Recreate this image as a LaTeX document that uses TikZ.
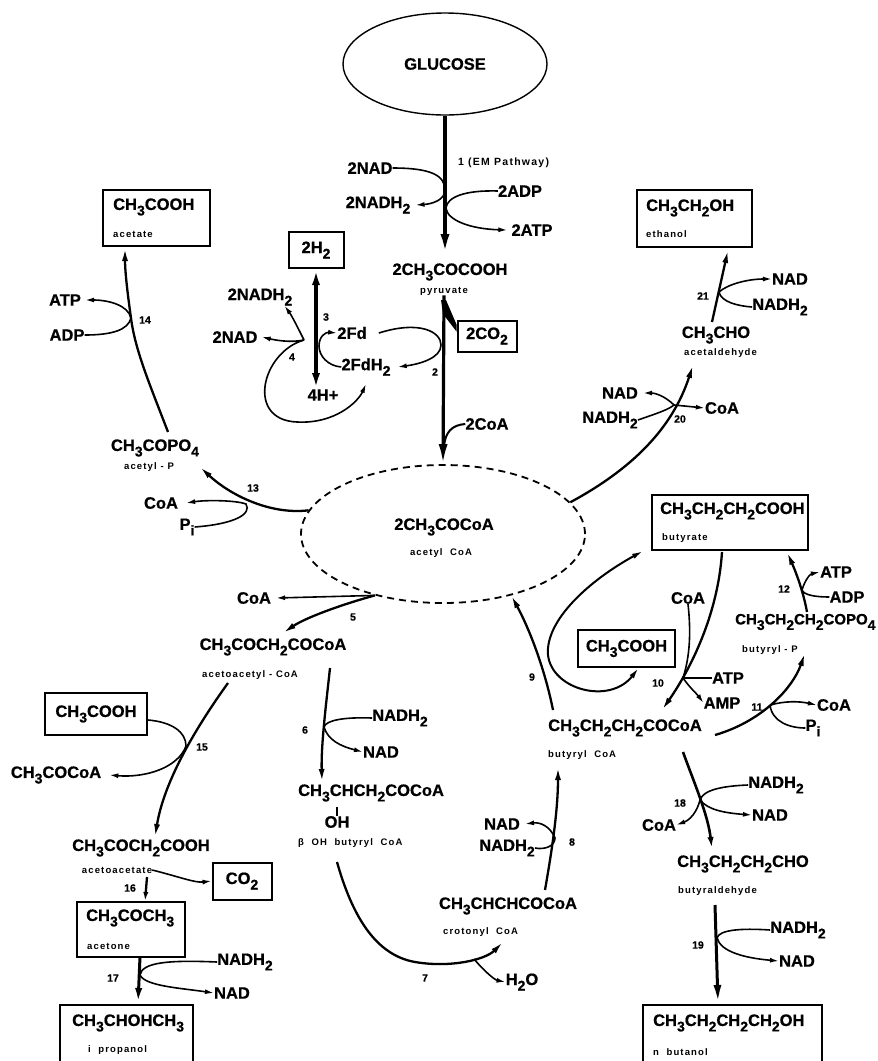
\documentclass[tikz,border=0pt]{standalone}
\usepackage{fontspec}
\setmainfont{Liberation Sans}[BoldFeatures={FakeBold=0.7}]
\newfontfamily\spacedfam[LetterSpace=12]{Liberation Sans}
\usepackage{tikz}
\usetikzlibrary{arrows.meta,shapes.geometric,positioning}
\newcommand{\chs}[1]{\raisebox{-5.5pt}{\fontsize{14}{14}\selectfont #1}}
\newcommand{\cmpfont}{\fontsize{16.5}{18}\selectfont\bfseries}
\newcommand{\lblfont}{\spacedfam\fontsize{9.5}{10}\selectfont\bfseries}
\newcommand{\numfont}{\fontsize{10.5}{11}\selectfont\bfseries}

\begin{document}
\begin{tikzpicture}[x=1pt,y=-1pt,
  cmp/.style={font=\cmpfont,inner sep=0pt},
  lbl/.style={font=\lblfont,inner sep=0pt},
  num/.style={font=\numfont,inner sep=0pt},
  cbox/.style={draw,rectangle,line width=2pt,inner sep=0pt},
  cof/.style={line width=1.6pt},
  cofarr/.style={cof,-{Latex[length=9pt,width=5pt]}},
  rxn/.style={line width=2.3pt,-{Latex[length=13pt,width=6pt]}},
  mainrxn/.style={line width=3.6pt,-{Latex[length=20pt,width=9pt]}},
  dblrxn/.style={line width=3.4pt,{Latex[length=16pt,width=8pt]}-{Latex[length=16pt,width=8pt]}},
  twoway/.style={line width=2pt,{Latex[length=11pt,width=5.5pt]}-{Latex[length=11pt,width=5.5pt]}}]

\useasboundingbox (0,0) rectangle (878,1061);
\fill[white] (0,0) rectangle (878,1061);
\clip (0,0) rectangle (878,1061);

% glucose to pyruvate
\node[draw,ellipse,line width=1.4pt,minimum width=204pt,minimum height=102pt,cmp] (glc) at (445,64) {GLUCOSE};
\node[anchor=west,inner sep=0pt,font=\spacedfam\fontsize{10.5}{11}\selectfont\bfseries] (emp) at (458,163) {1 (EM Pathway)};
\node[cmp] (nadA) at (370,168) {2NAD};
\node[cmp] (nadhA) at (378,205) {2NADH\chs2};
\node[cmp] (adpA) at (520,191) {2ADP};
\node[cmp] (atpA) at (532,230) {2ATP};
\node[cmp] (pyr) at (450,272) {2CH\chs3COCOOH};
\node[lbl] (pyrl) at (444,291) {pyruvate};
\coordinate (t1) at (445,254);
\coordinate (j1a) at (445,190);
\coordinate (j1b) at (446,208);
\draw[mainrxn] (glc.south) -- (t1);
\draw[cofarr] (nadA.east) .. controls (430,168) and (445,175) .. (j1a) .. controls (445,200) and (432,204) .. ([xshift=5pt]nadhA.east);
\draw[cofarr] (adpA.west) .. controls (465,190) and (447,197) .. (j1b) .. controls (447,220) and (470,229) .. ([xshift=-4pt]atpA.west);

% pyruvate to acetyl CoA, hydrogen
\node[cmp,cbox,minimum width=59pt,minimum height=31pt] (co2A) at (487,336) {2CO\chs2};
\node[cmp,cbox,minimum width=55pt,minimum height=36pt] (htwo) at (316,250) {2H\chs2};
\node[cmp] (fd) at (352,333) {2Fd};
\node[cmp] (fdh) at (366,367) {2FdH\chs2};
\node[cmp] (hplus) at (323,395) {4H+};
\node[cmp] (nadhB) at (260,297) {2NADH\chs2};
\node[cmp] (nadB) at (235,337) {2NAD};
\node[num] (n3) at (326,317) {3};
\node[num] (n2) at (435,372) {2};
\node[num] (n4) at (292,357) {4};
\node[cmp] (coaB) at (487,424) {2CoA};
\node[draw,ellipse,line width=1.8pt,dash pattern=on 7pt off 5pt,minimum width=284pt,minimum height=138pt] (acoa) at (443,534) {};
\node[cmp] (acoat) at (444,527) {2CH\chs3COCoA};
\node[lbl] (acoal) at (441,553) {acetyl\ \ CoA};
\coordinate (j2) at (441,345);
\coordinate (j3) at (319,346);
\coordinate (j4) at (304,340);
\coordinate (j2c) at (444,447);
\draw[mainrxn,line width=3.2pt] (pyrl.south) -- (acoa.north);
\fill (441,300) -- (446,300) -- ([yshift=-5pt]co2A.north west) -- ([yshift=-12pt]co2A.north west) -- (443,314) -- cycle;
\draw[cof,line width=2pt] (coaB.west) .. controls (452,425) and (445,432) .. (j2c);
\draw[cofarr] ([xshift=12pt]fd.east) .. controls (420,320) and (441,332) .. (j2) .. controls (441,358) and (420,364) .. ([xshift=7pt]fdh.east);
\draw[dblrxn] (htwo.south) -- (htwo.south |- hplus.north);
\draw[cofarr] (fdh.west) .. controls (328,366) and (319,356) .. (j3) .. controls (319,336) and (326,332) .. (fd.west);
\draw[cofarr] (j4) .. controls (298,328) and (292,316) .. ([xshift=-8pt]nadhB.south east);
\draw[cofarr] (j4) .. controls (290,343) and (275,340) .. ([xshift=4pt]nadB.east);
\draw[cofarr] (j4) .. controls (262,352) and (245,420) .. (297,422) .. controls (335,424) and (358,402) .. ([yshift=-8pt]fdh.south);

% acetate branch
\node[cbox,minimum width=107pt,minimum height=56pt] (acetbox) at (156.5,218) {};
\node[cmp,anchor=west] (acet) at (113,207) {CH\chs3COOH};
\node[lbl,anchor=west] (acetl) at (113,234) {acetate};
\node[cmp] (atpC) at (65,300) {ATP};
\node[cmp] (adpC) at (67,335) {ADP};
\node[num] (n14) at (145,320) {14};
\node[cmp] (acp) at (155,448) {CH\chs3COPO\chs4};
\node[lbl] (acpl) at (149,467) {acetyl - P};
\node[num] (n13) at (253,488) {13};
\node[cmp] (coaD) at (161,503) {CoA};
\node[cmp] (piD) at (187,527) {P\chs{i}};
\coordinate (s14) at (168,432);
\coordinate (t14) at (125,248);
\coordinate (j14) at (131,318);
\coordinate (t13) at (200,467);
\coordinate (j13) at (246,504);
\draw[rxn] (s14) .. controls (150,385) and (135,350) .. (j14) .. controls (127,290) and (125,270) .. (t14);
\draw[cofarr] (adpC.east) .. controls (112,335) and (128,330) .. (j14) .. controls (128,305) and (108,300) .. ([xshift=4pt]atpC.east);
\draw[rxn] (acoa.170) .. controls (270,515) and (230,495) .. (t13);
\draw[cofarr] (piD.east) .. controls (235,524) and (252,514) .. (j13) .. controls (235,500) and (205,500) .. ([xshift=8pt]coaD.east);

% acetone and isopropanol branch
\node[cmp] (coaE) at (254,598) {CoA};
\node[num] (n5) at (353,617) {5};
\node[cmp] (acac) at (273,647) {CH\chs3COCH\chs2COCoA};
\node[lbl] (acacl) at (250,675) {acetoacetyl - CoA};
\node[cmp,cbox,minimum width=102pt,minimum height=42pt] (acetB) at (96,714) {CH\chs3COOH};
\node[num] (n15) at (202,747) {15};
\node[cmp] (accoa) at (56,775) {CH\chs3COCoA};
\node[cmp] (acacid) at (141,848) {CH\chs3COCH\chs2COOH};
\node[lbl] (acacidl) at (117,870) {acetoacetate};
\node[num] (n16) at (130,888) {16};
\node[cmp,cbox,minimum width=59pt,minimum height=37pt] (co2B) at (242,881) {CO\chs2};
\node[cbox,minimum width=108pt,minimum height=55pt] (acnbox) at (131,929.5) {};
\node[cmp,anchor=west] (acn) at (86,918) {CH\chs3COCH\chs3};
\node[lbl,anchor=west] (acnl) at (87,946) {acetone};
\node[num] (n17) at (113,978) {17};
\node[cmp] (nadhF) at (245,962) {NADH\chs2};
\node[cmp] (nadF) at (232,993) {NAD};
\node[cbox,minimum width=133pt,minimum height=80pt] (propbox) at (126.5,1045) {};
\node[cmp,anchor=west] (prop) at (72,1023) {CH\chs3CHOHCH\chs3};
\node[lbl,anchor=west] (propl) at (88,1050) {i\ \ propanol};
\coordinate (t5) at (283,633);
\coordinate (s15) at (228,683);
\coordinate (t15) at (155,837);
\coordinate (j15) at (186,746);
\coordinate (s16) at (147,877);
\coordinate (t16) at (145,902);
\coordinate (s17) at (140,957);
\coordinate (t17) at (138,1004);
\coordinate (j17) at (140,975);
\draw[rxn] (acoa.222) .. controls (340,605) and (305,618) .. (t5);
\draw[cofarr] (acoa.222) -- ([xshift=5pt]coaE.east);
\draw[rxn] (s15) .. controls (205,715) and (165,775) .. (t15);
\draw[cofarr] ([yshift=-6pt]acetB.east) .. controls (172,722) and (186,732) .. (j15) .. controls (178,768) and (145,778) .. ([xshift=8pt]accoa.east);
\draw[rxn,-{Latex[length=10pt,width=5pt]}] (s16) -- (t16);
\draw[cofarr] (acacidl.east) .. controls (180,877) and (195,883) .. (co2B.west);
\draw[mainrxn,line width=3pt,-{Latex[length=16pt,width=7pt]}] (s17) -- (t17);
\draw[cofarr] (nadhF.west) .. controls (170,960) and (142,962) .. (j17) .. controls (145,986) and (180,988) .. (nadF.west);

% butyryl CoA chain
\node[num] (n6) at (305,730) {6};
\node[cmp] (nadhG) at (400,718) {NADH\chs2};
\node[cmp] (nadG) at (381,752) {NAD};
\node[cmp,anchor=west] (hbc) at (298,793) {CH\chs3CHCH\chs2COCoA};
\node[cmp] (hboh) at (337,822) {OH};
\node[lbl,anchor=west] (hbl) at (298,843) {β\ \ OH\ \ butyryl\ \ CoA};
\node[cmp] (crot) at (508,906) {CH\chs3CHCHCOCoA};
\node[lbl,anchor=west] (crotl) at (443,932) {crotonyl\ \ CoA};
\node[num] (n7) at (425,978) {7};
\node[cmp] (water) at (522,982) {H\chs2O};
\node[num] (n8) at (572,842) {8};
\node[cmp] (nadH) at (502,824) {NAD};
\node[cmp] (nadhH) at (507,848) {NADH\chs2};
\node[cmp] (buco) at (625,728) {CH\chs3CH\chs2CH\chs2COCoA};
\node[lbl,anchor=west] (bucol) at (548,755) {butyryl\ \ CoA};
\node[num] (n9) at (532,677) {9};
\node[cmp,cbox,minimum width=97pt,minimum height=37pt] (acetC) at (626.5,648.5) {CH\chs3COOH};
\coordinate (s6) at (330,668);
\coordinate (t6) at (322,782);
\coordinate (j6) at (324,727);
\coordinate (s7) at (337,862);
\coordinate (t7) at (503,942);
\coordinate (j7) at (474,959);
\coordinate (s8) at (545,890);
\coordinate (t8) at (558,767);
\coordinate (j8) at (555,838);
\coordinate (s9) at (553,710);
\coordinate (u1) at (643,551);
\draw[rxn] (s6) .. controls (326,705) and (321,745) .. (t6);
\draw[cofarr] (nadhG.west) .. controls (345,717) and (326,720) .. (j6) .. controls (328,740) and (340,746) .. (nadG.west);
\draw[line width=1.2pt] (hboh.north) -- ++(0,-9);
\draw[rxn] (s7) .. controls (352,915) and (375,955) .. (415,962) .. controls (450,968) and (485,960) .. (t7);
\draw[cofarr] (j7) .. controls (485,972) and (495,980) .. (water.west);
\draw[rxn] (s8) .. controls (552,850) and (558,810) .. (t8);
\draw[cofarr] (nadhH.east) .. controls (545,850) and (555,846) .. (j8) .. controls (550,826) and (540,822) .. ([xshift=5pt]nadH.east);
\draw[rxn] (s9) .. controls (545,670) and (530,630) .. (acoa.318);
\draw[twoway] (u1) .. controls (590,580) and (545,620) .. (548,655) .. controls (552,690) and (610,705) .. ([xshift=12pt]acetC.south);

% ethanol branch
\node[cbox,minimum width=115pt,minimum height=57pt] (etbox) at (694.5,218.5) {};
\node[cmp,anchor=west] (eth) at (646,208) {CH\chs3CH\chs2OH};
\node[lbl,anchor=west] (ethl) at (646,234) {ethanol};
\node[num] (n21) at (703,296) {21};
\node[cmp] (nadI) at (790,279) {NAD};
\node[cmp] (nadhI) at (780,307) {NADH\chs2};
\node[cmp] (ald) at (716,335) {CH\chs3CHO};
\node[lbl,anchor=west] (aldl) at (684,353) {acetaldehyde};
\node[num] (n20) at (680,419) {20};
\node[cmp] (nadJ) at (620,393) {NAD};
\node[cmp] (nadhJ) at (610,420) {NADH\chs2};
\node[cmp] (coaJ) at (722,408) {CoA};
\coordinate (s21) at (712,322);
\coordinate (t21) at (728,250);
\coordinate (j21) at (719,292);
\coordinate (t20) at (693,365);
\coordinate (j20) at (674,405);
\draw[rxn] (s21) -- (t21);
\draw[cofarr] (nadhI.west) .. controls (738,306) and (721,302) .. (j21) .. controls (728,284) and (748,279) .. (nadI.west);
\draw[rxn] (acoa.14) .. controls (630,470) and (672,430) .. (t20);
\draw[cofarr] (nadhJ.east) .. controls (655,414) and (668,410) .. (j20) .. controls (665,396) and (655,393) .. ([xshift=5pt]nadJ.east);
\draw[cofarr] (j20) -- (coaJ.west);

% butyrate and butanol
\node[cbox,minimum width=156pt,minimum height=55pt] (butbox) at (730,522.5) {};
\node[cmp,anchor=west] (but) at (660,511) {CH\chs3CH\chs2CH\chs2COOH};
\node[lbl,anchor=west] (butl) at (662,538) {butyrate};
\node[num] (n12) at (784,589) {12};
\node[cmp] (atpK) at (836,572) {ATP};
\node[cmp] (adpK) at (847,597) {ADP};
\node[cmp,anchor=west,font=\fontsize{15}{16}\selectfont\bfseries] (bup) at (735,622) {CH\chs3CH\chs2CH\chs2COPO\chs4};
\node[lbl,anchor=west] (bupl) at (742,650) {butyryl - P};
\node[cmp] (coaL) at (688,598) {CoA};
\node[num] (n10) at (658,683) {10};
\node[cmp] (atpL) at (728,678) {ATP};
\node[cmp] (ampL) at (722,703) {AMP};
\node[num] (n11) at (757,707) {11};
\node[cmp] (coaM) at (834,705) {CoA};
\node[cmp] (piM) at (813,728) {P\chs{i}};
\node[num] (n18) at (680,803) {18};
\node[cmp] (nadhN) at (776,785) {NADH\chs2};
\node[cmp] (nadN) at (770,815) {NAD};
\node[cmp] (coaN) at (659,825) {CoA};
\node[cmp] (bual) at (743,864) {CH\chs3CH\chs2CH\chs2CHO};
\node[lbl,anchor=west] (buall) at (678,891) {butyraldehyde};
\node[num] (n19) at (698,945) {19};
\node[cmp] (nadhO) at (798,930) {NADH\chs2};
\node[cmp] (nadO) at (797,961) {NAD};
\node[cbox,minimum width=179pt,minimum height=80pt] (bolbox) at (732.5,1045) {};
\node[cmp,anchor=west] (bol) at (653,1023) {CH\chs3CH\chs2CH\chs2CH\chs2OH};
\node[lbl,anchor=west] (boll) at (653,1052) {n\ \ butanol};
\coordinate (s10) at (722,552);
\coordinate (t10) at (662,710);
\coordinate (j10) at (683,678);
\coordinate (s11) at (715,735);
\coordinate (t11) at (805,653);
\coordinate (j11) at (770,705);
\coordinate (s12) at (807,612);
\coordinate (t12) at (787,552);
\coordinate (j12) at (802,590);
\coordinate (s18) at (683,752);
\coordinate (t18) at (712,850);
\coordinate (j18) at (700,800);
\coordinate (s19) at (715,905);
\coordinate (t19) at (718,1003);
\coordinate (j19) at (717,938);
\draw[rxn] (s10) .. controls (718,615) and (690,670) .. (t10);
\draw[cof] (coaL.south) .. controls (692,640) and (688,662) .. (j10);
\draw[cof] (atpL.west) .. controls (700,678) and (690,678) .. (j10);
\draw[cofarr] (j10) .. controls (690,688) and (697,694) .. (ampL.west);
\draw[rxn] (s11) .. controls (760,722) and (792,690) .. (t11);
\draw[cofarr] (j11) .. controls (785,701) and (798,701) .. (coaM.west);
\draw[cof] (piM.west) .. controls (790,728) and (772,722) .. (j11);
\draw[rxn] (s12) .. controls (803,590) and (795,570) .. (t12);
\draw[cofarr] (j12) .. controls (805,580) and (810,574) .. (atpK.west);
\draw[cof] (adpK.west) .. controls (815,597) and (804,595) .. (j12);
\draw[rxn,line width=2.6pt] (s18) .. controls (695,785) and (708,815) .. (t18);
\draw[cofarr] (nadhN.west) .. controls (722,786) and (703,790) .. (j18) .. controls (708,810) and (725,813) .. (nadN.west);
\draw[cofarr] (j18) .. controls (697,812) and (690,820) .. (coaN.east);
\draw[mainrxn,line width=3pt,-{Latex[length=18pt,width=8pt]}] (s19) -- (t19);
\draw[cofarr] (nadhO.west) .. controls (740,928) and (719,930) .. (j19) .. controls (721,952) and (745,958) .. (nadO.west);
\end{tikzpicture}
\end{document}
